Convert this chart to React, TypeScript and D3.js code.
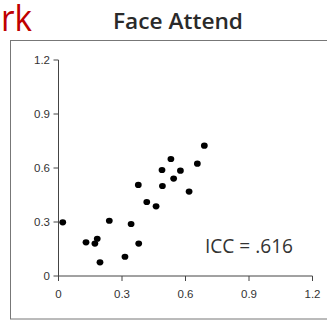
import React from "react";
import * as d3 from "d3";

const xValues = [0.02, 0.13, 0.172, 0.183, 0.196, 0.24, 0.314, 0.343, 0.379, 0.377, 0.417, 0.461, 0.489, 0.491, 0.531, 0.544, 0.576, 0.617, 0.656, 0.689];
const yValues = [0.298, 0.187, 0.18, 0.207, 0.076, 0.307, 0.107, 0.289, 0.18, 0.506, 0.411, 0.387, 0.589, 0.5, 0.65, 0.541, 0.585, 0.469, 0.624, 0.724];
const xTicks = [0, 0.3, 0.6, 0.9, 1.2];
const yTicks = [0, 0.3, 0.6, 0.9, 1.2];
const xTickLabels = ["0", "0.3", "0.6", "0.9", "1.2"];
const yTickLabels = ["0", "0.3", "0.6", "0.9", "1.2"];
const title = "Face Attend";
const annotation = "ICC = .616";
const cornerText = "rk";

export default function App() {
  const W = 327, H = 320;
  const x = d3.scaleLinear().domain([0, 1.2]).range([58.5, 312.5]);
  const y = d3.scaleLinear().domain([0, 1.2]).range([276, 60]);
  const axisColor = "#444";
  const tickFont = "Liberation Sans, Arial, sans-serif";
  return (
    <svg width={W} height={H} style={{ position: "absolute", left: 0, top: 0, background: "#fff" }}>
      <text x={1} y={31} fontSize={36} fill="#c00000" fontFamily="'Open Sans', sans-serif" textLength={31} lengthAdjust="spacingAndGlyphs">{cornerText}</text>
      <text x={178} y={28.5} fontSize={21} fill="#2a2a2a" textAnchor="middle" fontFamily="'Open Sans', sans-serif" fontWeight={600} textLength={130} lengthAdjust="spacingAndGlyphs">{title}</text>
      <rect x={10.5} y={40.5} width={330} height={278.5} fill="none" stroke="#777" strokeWidth={1} />
      {/* y axis */}
      <line x1={x(0)} x2={x(0)} y1={y(1.2)} y2={y(0)} stroke={axisColor} strokeWidth={1} />
      {yTicks.map((t, i) => (
        <g key={"yt" + i}>
          <line x1={x(0) - 5} x2={x(0)} y1={y(t)} y2={y(t)} stroke={axisColor} strokeWidth={1} />
          <text x={x(0) - 8.5} y={y(t)} dy="0.35em" fontSize={11.5} fill="#333" textAnchor="end" fontFamily={tickFont}>{yTickLabels[i]}</text>
        </g>
      ))}
      {/* x axis */}
      <line x1={x(0)} x2={x(1.2)} y1={y(0)} y2={y(0)} stroke={axisColor} strokeWidth={1} />
      {xTicks.map((t, i) => (
        <g key={"xt" + i}>
          <line x1={x(t)} x2={x(t)} y1={y(0)} y2={y(0) + 5} stroke={axisColor} strokeWidth={1} />
          <text x={x(t)} y={y(0) + 22} fontSize={11.5} fill="#333" textAnchor="middle" fontFamily={tickFont}>{xTickLabels[i]}</text>
        </g>
      ))}
      {xValues.map((v, i) => (
        <ellipse key={"p" + i} cx={x(v)} cy={y(yValues[i])} rx={3.4} ry={3.1} fill="#000" />
      ))}
      <text x={205} y={252.5} fontSize={19.5} fill="#333" fontFamily="'Open Sans', sans-serif" textLength={88} lengthAdjust="spacingAndGlyphs">{annotation}</text>
    </svg>
  );
}
